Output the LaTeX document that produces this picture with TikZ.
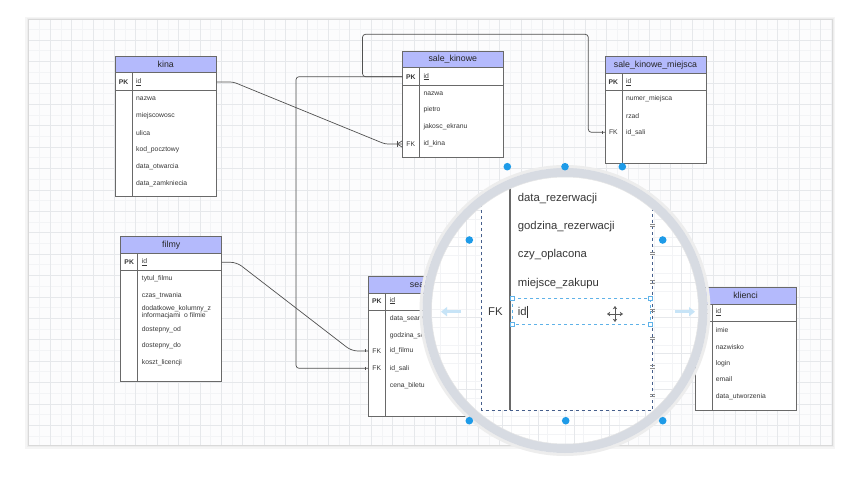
\documentclass[tikz,border=0pt]{standalone}
\usepackage{fontspec}
\setmainfont{Liberation Sans}
\usetikzlibrary{calc,arrows.meta}
\definecolor{hdrfill}{RGB}{180,186,252}
\definecolor{tline}{RGB}{105,105,105}
\definecolor{txt}{RGB}{55,55,55}
\definecolor{cline}{RGB}{80,80,80}
\definecolor{handle}{RGB}{30,155,232}
\definecolor{selblue}{RGB}{95,178,232}
\definecolor{ringc}{RGB}{215,219,226}
\definecolor{gridminor}{RGB}{243,244,246}
\definecolor{gridmajor}{RGB}{230,232,235}
\definecolor{canvasbg}{RGB}{252,252,253}
\definecolor{magborder}{RGB}{70,95,140}
\tikzset{
  tblbox/.style={draw=tline, line width=0.8pt, fill=white, inner sep=0pt, outer sep=0pt},
  hdrbox/.style={draw=tline, line width=0.8pt, fill=hdrfill, inner sep=0pt, outer sep=0pt,
    minimum height=16.7pt, font=\fontsize{8.8}{10}\selectfont, text=black!85},
  tln/.style={draw=tline, line width=0.8pt},
  pklbl/.style={font=\fontsize{6.8}{8}\selectfont\bfseries, text=txt, inner sep=0pt},
  fklbl/.style={font=\fontsize{6.8}{8}\selectfont, text=txt, inner sep=0pt},
  rowtxt/.style={anchor=west, font=\fontsize{6.8}{7.4}\selectfont, text=txt, inner sep=0pt},
  bigtxt/.style={anchor=west, font=\fontsize{11.3}{13}\selectfont, text=txt, inner sep=0pt},
  conn/.style={draw=cline, line width=0.7pt, rounded corners=3pt},
  erm/.style={draw=cline, line width=0.7pt},
  hdot/.style={fill=handle},
  selsq/.style={draw=selblue, fill=white, line width=0.6pt, minimum size=4pt, inner sep=0pt},
}
% name, L, T, R, B, title
\newcommand\ertable[6]{%
  \node[tblbox, anchor=north west, minimum width={(#4)-(#2)}, minimum height={(#5)-(#3)}] (#1) at (#2,#3) {};
  \node[hdrbox, anchor=north west, minimum width={(#4)-(#2)}] (#1-h) at (#2,#3) {#6};
  \draw[tln] (#2,#3+34) -- (#4,#3+34);
  \draw[tln] (#2+17,#3+16.7) -- (#2+17,#5);
}
\begin{document}
\begin{tikzpicture}[x=1pt,y=-1pt]
\useasboundingbox (0,0) rectangle (860,486);
\fill[white] (0,0) rectangle (860,486);
% canvas with shadow
\fill[black!4] (25,17) rectangle (835,449);
\fill[black!7] (26.5,18) rectangle (833.5,447);
\fill[canvasbg] (28,19) rectangle (832,445);
\foreach \x in {39.3,60.7,...,832} \draw[gridminor, line width=0.4pt] (\x,19) -- (\x,445);
\foreach \y in {29.3,50.7,...,445} \draw[gridminor, line width=0.4pt] (28,\y) -- (832,\y);
\foreach \x in {50,71.4,...,832} \draw[gridmajor, line width=0.5pt] (\x,19) -- (\x,445);
\foreach \y in {40,61.4,...,445} \draw[gridmajor, line width=0.5pt] (28,\y) -- (832,\y);
\draw[black!15, line width=0.5pt] (28,19) rectangle (832,445);

% ---------- kina
\ertable{kina}{115}{56}{216.5}{196.7}{kina}
\node[pklbl] (kina-pk) at (123.5,82) {PK};
\node[rowtxt] (kina-id) at (136,82) {\underline{id}};
\node[rowtxt] (kina-r1) at (136,99) {nazwa};
\node[rowtxt] (kina-r2) at (136,116) {miejscowosc};
\node[rowtxt] (kina-r3) at (136,133) {ulica};
\node[rowtxt] (kina-r4) at (136,150) {kod\_pocztowy};
\node[rowtxt] (kina-r5) at (136,166.5) {data\_otwarcia};
\node[rowtxt] (kina-r6) at (136,183.3) {data\_zamkniecia};

% ---------- sale_kinowe
\ertable{sk}{402.3}{51}{503.3}{157.3}{sale\_kinowe}
\node[pklbl] (sk-pk) at (410.8,76.7) {PK};
\node[rowtxt] (sk-id) at (423.3,76.7) {\underline{id}};
\node[rowtxt] (sk-r1) at (423.3,93.3) {nazwa};
\node[rowtxt] (sk-r2) at (423.3,110.2) {pietro};
\node[rowtxt] (sk-r3) at (423.3,127) {jakosc\_ekranu};
\node[fklbl] (sk-fk) at (410.8,144) {FK};
\node[rowtxt] (sk-r4) at (423.3,144) {id\_kina};

% ---------- sale_kinowe_miejsca
\ertable{skm}{605}{56.7}{706}{163.3}{sale\_kinowe\_miejsca}
\node[pklbl] (skm-pk) at (613.4,82.3) {PK};
\node[rowtxt] (skm-id) at (625.8,82.3) {\underline{id}};
\node[rowtxt] (skm-r1) at (625.8,99) {numer\_miejsca};
\node[rowtxt] (skm-r2) at (625.8,115.8) {rzad};
\node[fklbl] (skm-fk) at (613.4,132.3) {FK};
\node[rowtxt] (skm-r3) at (625.8,132.3) {id\_sali};

% ---------- filmy
\ertable{filmy}{120.7}{236.7}{221.7}{381.7}{filmy}
\node[pklbl] (filmy-pk) at (129.2,262.3) {PK};
\node[rowtxt] (filmy-id) at (141.7,262.3) {\underline{id}};
\node[rowtxt] (filmy-r1) at (141.7,278.7) {tytul\_filmu};
\node[rowtxt] (filmy-r2) at (141.7,295.7) {czas\_trwania};
\node[rowtxt, align=left] (filmy-r3) at (141.7,312) {dodatkowe\_kolumny\_z\\informacjami\ \ o filmie};
\node[rowtxt] (filmy-r4) at (141.7,329.3) {dostepny\_od};
\node[rowtxt] (filmy-r5) at (141.7,346) {dostepny\_do};
\node[rowtxt] (filmy-r6) at (141.7,362.7) {koszt\_licencji};

% ---------- seanse
\ertable{se}{368.3}{276.7}{480}{416}{seanse}
\node[pklbl] (se-pk) at (376.8,300.7) {PK};
\node[rowtxt] (se-id) at (389.7,300.7) {\underline{id}};
\node[rowtxt] (se-r1) at (389.7,318.3) {data\_seansu};
\node[rowtxt] (se-r2) at (389.7,335.5) {godzina\_seansu};
\node[fklbl] (se-fk1) at (376.8,351) {FK};
\node[rowtxt] (se-r3) at (389.7,351) {id\_filmu};
\node[fklbl] (se-fk2) at (376.8,368.3) {FK};
\node[rowtxt] (se-r4) at (389.7,368.3) {id\_sali};
\node[rowtxt] (se-r5) at (389.7,386) {cena\_biletu};

% ---------- klienci
\ertable{kl}{695}{287.3}{796}{410}{klienci}
\node[pklbl] (kl-pk) at (703.4,312.3) {PK};
\node[rowtxt] (kl-id) at (715.7,312.3) {\underline{id}};
\node[rowtxt] (kl-r1) at (715.7,330) {imie};
\node[rowtxt] (kl-r2) at (715.7,346.7) {nazwisko};
\node[rowtxt] (kl-r3) at (715.7,363.3) {login};
\node[rowtxt] (kl-r4) at (715.7,379.3) {email};
\node[rowtxt] (kl-r5) at (715.7,396.3) {data\_utworzenia};

% ---------- connectors
\draw[conn] (kina.east |- kina-id) -- (233.3,82) -- (385,144) -- (sk.west |- sk-r4);
\draw[erm] ($(sk.west |- sk-r4)+(-5,-3)$) -- ++(0,6);
\draw[erm] ($(sk.west |- sk-r4)+(0,-3.2)$) -- ($(sk.west |- sk-r4)+(-5,0)$) -- ($(sk.west |- sk-r4)+(0,3.2)$);

\draw[conn] (sk.west |- sk-id) -- (362.5,76.7) -- (362.5,34.3) -- (588.3,34.3) -- (588.3,132.3) -- (skm.west |- skm-r3);
\draw[conn] (sk.west |- sk-id) -- (296,76.7) -- (296,368.3) -- (se.west |- se-r4);
\draw[conn, rounded corners=6pt] (filmy.east |- filmy-id) -- (236.7,262.3) -- (351.7,351) -- (se.west |- se-r3);
\draw[erm] ($(skm.west |- skm-r3)+(-2.5,-1.5)$) -- ++(0,3);
\draw[erm] ($(se.west |- se-r3)+(-2.5,-1.5)$) -- ++(0,3);
\draw[erm] ($(se.west |- se-r4)+(-2.5,-1.5)$) -- ++(0,3);

% ---------- magnifier
\coordinate (mc) at (565,310.5);
\begin{scope}
  \clip (mc) circle[radius=136];
  \fill[white] (mc) circle[radius=136];
  \foreach \x in {422,439.9,...,712} \draw[gridminor, line width=0.5pt] (\x,160) -- (\x,460);
  \foreach \y in {166,183.9,...,460} \draw[gridminor, line width=0.5pt] (420,\y) -- (712,\y);
  \foreach \x in {431,466.7,...,712} \draw[gridmajor, line width=0.6pt] (\x,160) -- (\x,460);
  \foreach \y in {175,210.7,...,460} \draw[gridmajor, line width=0.6pt] (420,\y) -- (712,\y);
  % magnified table
  \fill[white] (481.7,150) rectangle (652.3,410);
  \draw[magborder, dashed, line width=0.8pt] (481.7,150) rectangle (652.3,410);
  \draw[tline, line width=1.1pt] (510,150) -- (510,410);
  \node[bigtxt] (m-r1) at (517.7,198.3) {data\_rezerwacji};
  \node[bigtxt] (m-r2) at (517.7,226.7) {godzina\_rezerwacji};
  \node[bigtxt] (m-r3) at (517.7,255) {czy\_oplacona};
  \node[bigtxt] (m-r4) at (517.7,283.3) {miejsce\_zakupu};
  \node[bigtxt] (m-fk) at (488,311.7) {FK};
  \node[bigtxt] (m-id) at (517.7,311.7) {id};
  \draw[black!80, line width=0.6pt] ($(m-id.east)+(0.8,-6)$) -- ($(m-id.east)+(0.8,6)$);
  \foreach \y in {225,253.3,281.7,310,338.3,366.7,395}
    \draw[black!45, line width=0.5pt] (650,\y-1.2) -- (655,\y-1.2) (650,\y+1.2) -- (655,\y+1.2);
  % selected row
  \draw[selblue, dashed, line width=0.8pt] (512,298.3) rectangle (650,324);
  \node[selsq] (sq1) at (512,298.3) {};
  \node[selsq] (sq2) at (650,298.3) {};
  \node[selsq] (sq3) at (512,324) {};
  \node[selsq] (sq4) at (650,324) {};
  % move cursor
  \draw[black!65, line width=0.9pt, {Stealth[length=3.2pt,width=4.5pt]}-{Stealth[length=3.2pt,width=4.5pt]}] (607,314) -- (623,314);
  \draw[black!65, line width=0.9pt, {Stealth[length=3.2pt,width=4.5pt]}-{Stealth[length=3.2pt,width=4.5pt]}] (615,306) -- (615,322);
  % faded hover arrows
  \draw[selblue!35, line width=3pt, -{Triangle[length=6pt,width=9pt]}] (461,311.7) -- (441,311.7);
  \draw[selblue!35, line width=3pt, -{Triangle[length=6pt,width=9pt]}] (675,311.7) -- (695,311.7);
\end{scope}
% ring
\draw[black!7, line width=3pt] (mc) circle[radius=144];
\draw[ringc, line width=9pt] (mc) circle[radius=138];
\draw[black!10, line width=0.5pt] (mc) circle[radius=133.5];
% selection handles
\foreach \p in {(507.3,166.7),(565,166.7),(622.3,166.7),(469.3,240),(662.7,240),(469.3,420.7),(565.7,420.7),(662.7,420.7)}
  \fill[hdot] \p circle[radius=3.8];
\end{tikzpicture}
\end{document}
